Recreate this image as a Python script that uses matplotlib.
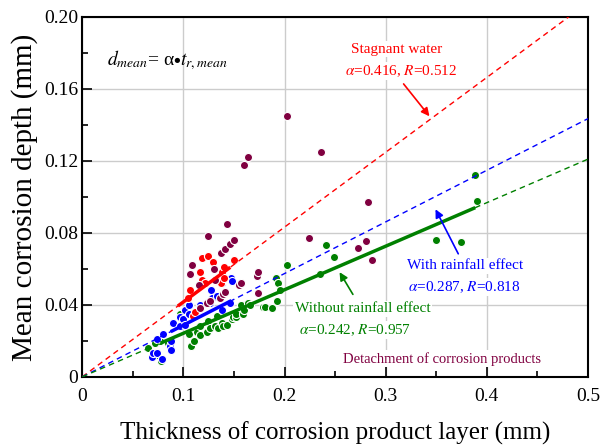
import numpy as np
import matplotlib
matplotlib.use('Agg')
import matplotlib.pyplot as plt
from matplotlib.ticker import MultipleLocator

plt.rcParams['font.family'] = ['Liberation Serif', 'DejaVu Serif']
plt.rcParams['mathtext.fontset'] = 'stix'

# stagnant water
x_red = [0.105, 0.107, 0.110, 0.116, 0.118, 0.118, 0.121, 0.124, 0.129, 0.133,
         0.137, 0.138, 0.140, 0.140, 0.150, 0.112]
y_red = [0.044, 0.048, 0.034, 0.058, 0.054, 0.066, 0.052, 0.067, 0.064, 0.053,
         0.052, 0.058, 0.055, 0.061, 0.065, 0.036]

# with rainfall effect
x_blue = [0.069, 0.070, 0.074, 0.074, 0.079, 0.080, 0.087, 0.088, 0.088, 0.090,
          0.097, 0.097, 0.100, 0.102, 0.102, 0.106, 0.106, 0.116, 0.116, 0.126,
          0.127, 0.128, 0.133, 0.138, 0.138, 0.146, 0.147, 0.148]
y_blue = [0.011, 0.013, 0.013, 0.021, 0.010, 0.024, 0.017, 0.015, 0.020, 0.030,
          0.028, 0.033, 0.032, 0.029, 0.037, 0.035, 0.040, 0.038, 0.040, 0.041,
          0.048, 0.044, 0.045, 0.037, 0.052, 0.041, 0.055, 0.053]

# without rainfall effect
x_green = [0.065, 0.072, 0.074, 0.078, 0.077, 0.085, 0.088, 0.097, 0.106, 0.108,
           0.111, 0.113, 0.116, 0.116, 0.123, 0.124, 0.126, 0.131, 0.133, 0.134,
           0.138, 0.139, 0.143, 0.148, 0.149, 0.152, 0.152, 0.157, 0.159, 0.160,
           0.164, 0.166, 0.179, 0.181, 0.188, 0.193, 0.192, 0.194, 0.196, 0.202,
           0.235, 0.241, 0.249, 0.350, 0.374, 0.388, 0.390]
y_green = [0.016, 0.019, 0.012, 0.009, 0.020, 0.019, 0.020, 0.035, 0.024, 0.017,
           0.020, 0.025, 0.023, 0.028, 0.025, 0.031, 0.027, 0.028, 0.034, 0.027,
           0.030, 0.028, 0.029, 0.032, 0.033, 0.033, 0.035, 0.040, 0.035, 0.037,
           0.041, 0.040, 0.039, 0.039, 0.038, 0.042, 0.055, 0.052, 0.048, 0.062,
           0.057, 0.0735, 0.0665, 0.076, 0.075, 0.112, 0.098]

# detachment of corrosion products
x_pur = [0.107, 0.109, 0.115, 0.116, 0.123, 0.124, 0.126, 0.130, 0.131, 0.136,
         0.137, 0.139, 0.141, 0.141, 0.143, 0.146, 0.150, 0.155, 0.157, 0.160,
         0.164, 0.173, 0.174, 0.174, 0.202, 0.224, 0.236, 0.273, 0.281, 0.283,
         0.286]
y_pur = [0.057, 0.062, 0.051, 0.038, 0.041, 0.078, 0.042, 0.060, 0.054, 0.044,
         0.069, 0.046, 0.071, 0.047, 0.085, 0.074, 0.076, 0.051, 0.052, 0.118,
         0.122, 0.056, 0.058, 0.0465, 0.145, 0.077, 0.125, 0.0715, 0.0756, 0.097,
         0.065]

alpha_red, alpha_blue, alpha_green = 0.416, 0.287, 0.242
fit_red = [0.096, 0.145]
fit_blue = [0.089, 0.146]
fit_green = [0.079, 0.387]

x_ticks = [0, 0.1, 0.2, 0.3, 0.4, 0.5]
x_labels = ['0', '0.1', '0.2', '0.3', '0.4', '0.5']
y_ticks = [0, 0.04, 0.08, 0.12, 0.16, 0.2]
y_labels = ['0', '0.04', '0.08', '0.12', '0.16', '0.20']

c_red, c_blue, c_green, c_pur = '#ff0000', '#0000ff', '#008000', '#800040'

fig = plt.figure(figsize=(6, 4.47), dpi=100)
ax = fig.add_axes([0.137, 0.157, 0.843, 0.805])

ax.grid(True, which='major', color='#cccccc', lw=1, zorder=0)

kw = dict(s=34, edgecolors='white', linewidths=0.8, zorder=3)
ax.scatter(x_green, y_green, c=c_green, **kw)
ax.scatter(x_blue, y_blue, c=c_blue, **kw)
ax.scatter(x_red, y_red, c=c_red, **kw)
ax.scatter(x_pur, y_pur, c=c_pur, **kw)

# fitted lines through origin (dashed) and over the data range (solid)
xx = np.array([0, 0.5])
for a, c in [(alpha_red, c_red), (alpha_blue, c_blue), (alpha_green, c_green)]:
    ax.plot(xx, a * xx, ls=(0, (4, 3)), color=c, lw=1, zorder=4)

for a, c, seg in [(alpha_red, c_red, fit_red), (alpha_blue, c_blue, fit_blue),
                  (alpha_green, c_green, fit_green)]:
    s = np.array(seg)
    ax.plot(s, a * s, color=c, lw=2.5, zorder=5)

box = dict(facecolor='white', edgecolor='none', pad=1)
ax.text(0.025, 0.176, r'$d_{mean}$= α$\bullet$$t_{r,mean}$', fontsize=14,
        va='center', ha='left', zorder=6)

ax.text(0.311, 0.182, 'Stagnant water', color=c_red, fontsize=11,
        ha='center', va='center', bbox=box, zorder=6)
ax.text(0.315, 0.170, r'$\alpha$=0.416, $R$=0.512', color=c_red, fontsize=11,
        ha='center', va='center', bbox=box, zorder=6)
ax.annotate('', xy=(0.345, 0.1436), xytext=(0.316, 0.164),
            arrowprops=dict(arrowstyle='-|>', color=c_red, lw=1.2, mutation_scale=12),
            zorder=6)

ax.text(0.378, 0.0617, 'With rainfall effect', color=c_blue, fontsize=11,
        ha='center', va='center', bbox=box, zorder=6)
ax.text(0.378, 0.050, r'$\alpha$=0.287, $R$=0.818', color=c_blue, fontsize=11,
        ha='center', va='center', bbox=box, zorder=6)
ax.annotate('', xy=(0.348, 0.0945), xytext=(0.373, 0.067),
            arrowprops=dict(arrowstyle='-|>', color=c_blue, lw=1.2, mutation_scale=12),
            zorder=6)

ax.text(0.277, 0.0378, 'Without rainfall effect', color=c_green, fontsize=11,
        ha='center', va='center', bbox=box, zorder=6)
ax.text(0.270, 0.026, r'$\alpha$=0.242, $R$=0.957', color=c_green, fontsize=11,
        ha='center', va='center', bbox=box, zorder=6)
ax.annotate('', xy=(0.253, 0.0595), xytext=(0.269, 0.0445),
            arrowprops=dict(arrowstyle='-|>', color=c_green, lw=1.2, mutation_scale=12),
            zorder=6)

ax.text(0.356, 0.010, 'Detachment of corrosion products', color=c_pur, fontsize=10.5,
        ha='center', va='center', bbox=box, zorder=6)

ax.set_xticks(x_ticks)
ax.set_xticklabels(x_labels)
ax.set_yticks(y_ticks)
ax.set_yticklabels(y_labels)
ax.xaxis.set_minor_locator(MultipleLocator(0.05))
ax.yaxis.set_minor_locator(MultipleLocator(0.02))
ax.set_xlim(0, 0.5)
ax.set_ylim(0, 0.2)
ax.tick_params(which='both', direction='in', labelsize=14, width=1.2)
ax.tick_params(which='major', length=7)
ax.tick_params(which='minor', length=4)
ax.tick_params(axis='x', pad=8)
ax.tick_params(axis='y', pad=3)
for sp in ax.spines.values():
    sp.set_linewidth(1.5)

ax.set_xlabel('Thickness of corrosion product layer (mm)', fontsize=18, labelpad=12)
ax.set_ylabel('Mean corrosion depth (mm)', fontsize=21, labelpad=4)

fig.savefig('out.png', dpi=100)
